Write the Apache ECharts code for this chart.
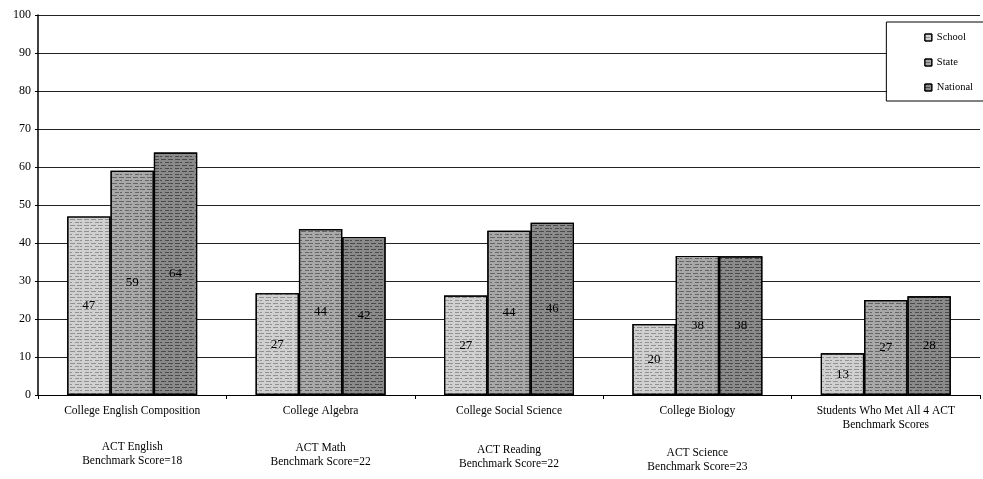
<!DOCTYPE html>
<html>
<head>
<meta charset="utf-8">
<script src="https://cdn.jsdelivr.net/npm/echarts@6/dist/echarts.min.js"></script>
<style>html,body{margin:0;padding:0;background:#fff}#c{width:983px;height:479px}</style>
</head>
<body>
<div id="c"></div>
<script>
var courses = ['College English Composition','College Algebra','College Social Science','College Biology','Students Who Met All 4 ACT\nBenchmark Scores'];
var benchmarks = ['ACT English\nBenchmark Score=18','ACT Math\nBenchmark Score=22','ACT Reading\nBenchmark Score=22','ACT Science\nBenchmark Score=23',''];
var seriesNames = ['School','State','National'];
// bar heights as drawn
var school   = [47, 26.8, 26.2, 18.7, 11];
var state    = [59, 43.7, 43.2, 36.6, 25];
var national = [63.8, 41.6, 45.3, 36.5, 26];
// printed labels
var schoolLbl   = [47, 27, 27, 20, 13];
var stateLbl    = [59, 44, 44, 38, 27];
var nationalLbl = [64, 42, 46, 38, 28];
var yTicks = [0,10,20,30,40,50,60,70,80,90,100];

var F = 'Liberation Serif';
var chart = echarts.init(document.getElementById('c'));
var spacers = [22, 23, 25, 28, 0];
var rich = {a:{fontFamily:F,fontSize:11.5,color:'#000',lineHeight:14}, b:{fontFamily:F,fontSize:11.5,color:'#000',lineHeight:14}};
spacers.forEach(function(s,i){ rich['s'+i] = {lineHeight:s, fontSize:2}; });

function mk(name, data, lbls, color, decalColor){
  return {
    name: name, type:'bar', data: data, barGap: '0%', barCategoryGap: '31%',
    itemStyle: {color: color, borderColor:'#000', borderWidth:1.2,
      decal: {symbol:'rect', symbolSize:1, dashArrayX:[[5,2],[2,3,4,1]], dashArrayY:[1,2], color: decalColor, rotation:0}},
    label: {show:true, position:'inside', fontFamily:F, fontSize:13, color:'#000',
      formatter: function(p){ return lbls[p.dataIndex]; }}
  };
}

chart.setOption({
  animation:false,
  aria:{enabled:false, decal:{show:true}},
  grid:{left:38, right:3, top:15, bottom:84},
  legend:{
    orient:'vertical', right:-2, top:22,
    data: seriesNames, itemWidth:7, itemHeight:7, itemGap:14,
    icon:'rect', padding:[10,12,8,38],
    backgroundColor:'#fff', borderColor:'#000', borderWidth:1,
    textStyle:{fontFamily:F, fontSize:10.5, color:'#000'}, itemStyle:{borderColor:'#000', borderWidth:1}
  },
  xAxis:{
    type:'category', data: courses,
    axisLine:{lineStyle:{color:'#000', width:1}},
    axisTick:{show:true, length:4, lineStyle:{color:'#000'}},
    axisLabel:{interval:0, margin:9, color:'#000', fontFamily:F, fontSize:11.5,
      formatter:function(v, i){
        var lines = v.split('\n').map(function(l){return '{a|'+l+'}';}).join('\n');
        if (benchmarks[i]) {
          lines += '\n{s'+i+'| }\n' + benchmarks[i].split('\n').map(function(l){return '{b|'+l+'}';}).join('\n');
        }
        return lines;
      },
      rich: rich
    }
  },
  yAxis:{
    type:'value', min:0, max:100, interval:10,
    axisLine:{show:true, lineStyle:{color:'#000', width:1.5}},
    axisTick:{show:true, length:3, lineStyle:{color:'#000'}},
    axisLabel:{color:'#000', fontFamily:F, fontSize:12, margin:7,
      formatter:function(v){ return yTicks.indexOf(v) >= 0 ? String(v) : ''; }},
    splitLine:{lineStyle:{color:'#222', width:1}}
  },
  series:[
    mk('School', school, schoolLbl, '#d0d0d0', 'rgba(50,50,50,0.4)'),
    mk('State', state, stateLbl, '#a8a8a8', 'rgba(20,20,20,0.45)'),
    mk('National', national, nationalLbl, '#8a8a8a', 'rgba(10,10,10,0.5)')
  ]
});
</script>
</body>
</html>
